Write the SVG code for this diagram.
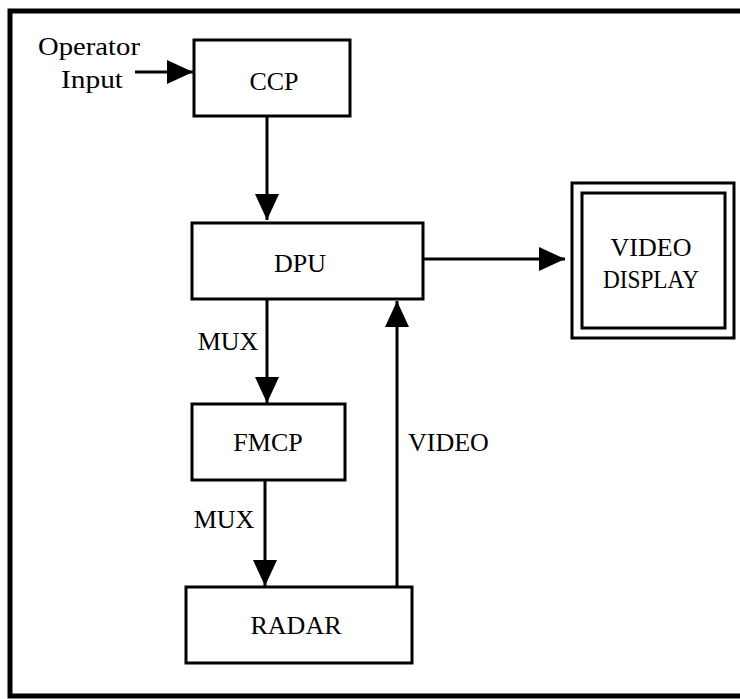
<svg xmlns="http://www.w3.org/2000/svg" width="740" height="699" viewBox="0 0 740 699">
<defs>
<style>
.box{fill:#fff;stroke:#000;stroke-width:3}
.frame{fill:none;stroke:#000;stroke-width:5}
.lbl{font-family:"Liberation Serif","Times New Roman",serif;font-size:26px;fill:#000}
.mid{text-anchor:middle}
.conn{stroke:#000;stroke-width:3;fill:none;marker-end:url(#ah)}
</style>
<marker id="ah" viewBox="0 0 26 24" refX="26" refY="12" markerWidth="26" markerHeight="24" markerUnits="userSpaceOnUse" orient="auto">
<path d="M0,0 L26,12 L0,24 Z" fill="#000"/>
</marker>
</defs>
<rect width="740" height="699" fill="#fff"/>
<path class="frame" d="M740,11 L10,11 L10,696 L740,696"/>
<g id="connectors">
<line class="conn" x1="135" y1="72" x2="193" y2="72"/>
<line class="conn" x1="267" y1="116" x2="267" y2="220"/>
<line class="conn" x1="423" y1="259" x2="565" y2="259"/>
<line class="conn" x1="267" y1="299" x2="267" y2="403"/>
<line class="conn" x1="265" y1="480" x2="265" y2="586"/>
<line class="conn" x1="397" y1="587" x2="397" y2="301"/>
</g>
<g id="labels">
<text class="lbl" x="38" y="55" textLength="102" lengthAdjust="spacingAndGlyphs">Operator</text>
<text class="lbl" x="61" y="88" textLength="62" lengthAdjust="spacingAndGlyphs">Input</text>
<text class="lbl mid" x="228" y="350">MUX</text>
<text class="lbl mid" x="224" y="528">MUX</text>
<text class="lbl" x="408" y="451">VIDEO</text>
</g>
<g id="ccp">
<rect class="box" x="194" y="40" width="156" height="76"/>
<text class="lbl mid" x="274" y="90">CCP</text>
</g>
<g id="dpu">
<rect class="box" x="192" y="223" width="231" height="76"/>
<text class="lbl mid" x="300" y="272">DPU</text>
</g>
<g id="fmcp">
<rect class="box" x="192" y="404" width="153" height="76"/>
<text class="lbl mid" x="268" y="451">FMCP</text>
</g>
<g id="radar">
<rect class="box" x="186" y="587" width="226" height="76"/>
<text class="lbl mid" x="296" y="634">RADAR</text>
</g>
<g id="video-display">
<rect class="box" x="572" y="183" width="162" height="155"/>
<rect class="box" x="582" y="193" width="143" height="135" stroke-width="3.5"/>
<text class="lbl mid" x="651" y="256">VIDEO</text>
<text class="lbl mid" x="651" y="288" textLength="96" lengthAdjust="spacingAndGlyphs">DISPLAY</text>
</g>
</svg>
